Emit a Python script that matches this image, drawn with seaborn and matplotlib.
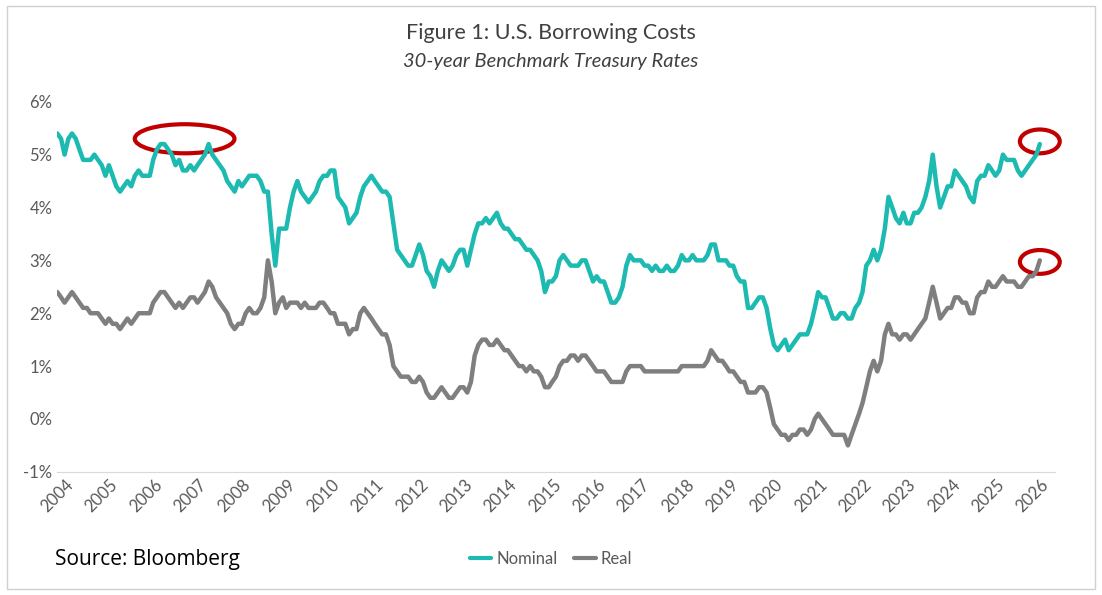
import matplotlib
matplotlib.use("Agg")
import matplotlib.pyplot as plt
import matplotlib.dates as mdates
import seaborn as sns
import pandas as pd
from matplotlib.patches import Ellipse, Rectangle
from matplotlib.lines import Line2D

nominal = [
5.4,5.3,5.0,5.3,5.4,5.3,5.1,4.9,4.9,4.9,5.0,4.9,
4.8,4.6,4.8,4.6,4.4,4.3,4.4,4.5,4.4,4.6,4.7,4.6,
4.6,4.6,4.9,5.1,5.2,5.2,5.1,5.0,4.8,4.9,4.7,4.7,
4.8,4.7,4.8,4.9,5.0,5.2,5.0,4.9,4.8,4.7,4.5,4.4,
4.3,4.5,4.4,4.5,4.6,4.6,4.6,4.5,4.3,4.3,3.5,2.9,
3.6,3.6,3.6,4.0,4.3,4.5,4.3,4.2,4.1,4.2,4.3,4.5,
4.6,4.6,4.7,4.7,4.2,4.1,4.0,3.7,3.8,3.9,4.2,4.4,
4.5,4.6,4.5,4.4,4.3,4.3,4.2,3.7,3.2,3.1,3.0,2.9,
2.9,3.1,3.3,3.1,2.8,2.7,2.5,2.8,3.0,2.9,2.8,2.9,
3.1,3.2,3.2,2.9,3.2,3.5,3.7,3.7,3.8,3.7,3.8,3.9,
3.7,3.6,3.6,3.5,3.4,3.4,3.3,3.2,3.2,3.1,3.0,2.8,
2.4,2.6,2.6,2.7,3.0,3.1,3.0,2.9,2.9,2.9,3.0,3.0,
2.8,2.6,2.7,2.6,2.6,2.4,2.2,2.2,2.3,2.5,2.9,3.1,
3.0,3.0,3.0,2.9,2.9,2.8,2.9,2.8,2.8,2.9,2.8,2.8,
2.9,3.1,3.0,3.0,3.1,3.0,3.0,3.0,3.1,3.3,3.3,3.0,
3.0,3.0,2.9,2.9,2.7,2.6,2.6,2.1,2.1,2.2,2.3,2.3,
2.1,1.7,1.4,1.3,1.4,1.5,1.3,1.4,1.5,1.6,1.6,1.6,
1.8,2.1,2.4,2.3,2.3,2.1,1.9,1.9,2.0,2.0,1.9,1.9,
2.1,2.2,2.4,2.9,3.0,3.2,3.0,3.2,3.6,4.2,4.0,3.8,
3.7,3.9,3.7,3.7,3.9,3.9,4.0,4.2,4.5,5.0,4.4,4.0,
4.2,4.4,4.4,4.7,4.6,4.5,4.4,4.2,4.1,4.5,4.6,4.6,
4.8,4.7,4.6,4.7,5.0,4.9,4.9,4.9,4.7,4.6,4.7,4.8,
4.9,5.0,5.2]
real = [
2.4,2.3,2.2,2.3,2.4,2.3,2.2,2.1,2.1,2.0,2.0,2.0,
1.9,1.8,1.9,1.8,1.8,1.7,1.8,1.9,1.8,1.9,2.0,2.0,
2.0,2.0,2.2,2.3,2.4,2.4,2.3,2.2,2.1,2.2,2.1,2.2,
2.3,2.3,2.2,2.3,2.4,2.6,2.5,2.3,2.2,2.1,2.0,1.8,
1.7,1.8,1.8,2.0,2.1,2.0,2.0,2.1,2.3,3.0,2.6,2.0,
2.2,2.3,2.1,2.2,2.2,2.2,2.1,2.2,2.1,2.1,2.1,2.2,
2.2,2.1,2.0,2.0,1.8,1.8,1.8,1.6,1.7,1.7,2.0,2.1,
2.0,1.9,1.8,1.7,1.6,1.6,1.4,1.0,0.9,0.8,0.8,0.8,
0.7,0.7,0.8,0.7,0.5,0.4,0.4,0.5,0.6,0.5,0.4,0.4,
0.5,0.6,0.6,0.5,0.7,1.2,1.4,1.5,1.5,1.4,1.4,1.5,
1.4,1.3,1.3,1.2,1.1,1.0,1.0,0.9,1.0,0.9,0.9,0.8,
0.6,0.6,0.7,0.8,1.0,1.1,1.1,1.2,1.2,1.1,1.2,1.2,
1.1,1.0,0.9,0.9,0.9,0.8,0.7,0.7,0.7,0.7,0.9,1.0,
1.0,1.0,1.0,0.9,0.9,0.9,0.9,0.9,0.9,0.9,0.9,0.9,
0.9,1.0,1.0,1.0,1.0,1.0,1.0,1.0,1.1,1.3,1.2,1.1,
1.1,1.0,0.9,0.9,0.8,0.7,0.7,0.5,0.5,0.5,0.6,0.6,
0.5,0.2,-0.1,-0.2,-0.3,-0.3,-0.4,-0.3,-0.3,-0.2,-0.2,-0.3,
-0.2,0.0,0.1,0.0,-0.1,-0.2,-0.3,-0.3,-0.3,-0.3,-0.5,-0.3,
-0.1,0.1,0.3,0.6,0.9,1.1,0.9,1.1,1.6,1.8,1.6,1.6,
1.5,1.6,1.6,1.5,1.6,1.7,1.8,1.9,2.2,2.5,2.2,1.9,
2.0,2.1,2.1,2.3,2.3,2.2,2.2,2.0,2.0,2.3,2.4,2.4,
2.6,2.5,2.5,2.6,2.7,2.6,2.6,2.6,2.5,2.5,2.6,2.7,
2.7,2.8,3.0]
years = list(range(2004, 2027))

dates = pd.date_range("2004-01-01", periods=len(nominal), freq="MS")
df = pd.DataFrame({"Date": list(dates)*2, "Rate": nominal+real,
                   "Series": ["Nominal"]*len(nominal)+["Real"]*len(real)})

sns.set_style("white")
plt.rcParams['font.family'] = ['Lato', 'DejaVu Sans']
fig = plt.figure(figsize=(11.02, 5.95), dpi=100)
fig.patches.append(Rectangle((0.006, 0.01), 0.988, 0.98, transform=fig.transFigure,
                             fill=False, edgecolor="#d0d0d0", lw=1))
ax = fig.add_axes([0.052, 0.207, 0.905, 0.622])
sns.lineplot(data=df, x="Date", y="Rate", hue="Series",
             palette={"Nominal": "#1cbab0", "Real": "#7f7f7f"}, lw=3.2, ax=ax, legend=False)
ax.set_xlim(pd.Timestamp("2004-01-01"), pd.Timestamp("2026-07-01"))
ax.set_ylim(-1, 6)
ax.set_yticks(range(-1, 7))
ax.set_yticklabels([f"{v}%" for v in range(-1, 7)], fontsize=12, color="#595959")
ax.set_xticks([pd.Timestamp(f"{y}-01-01") for y in years])
ax.set_xticklabels([str(y) for y in years], rotation=45, fontsize=12, color="#595959")
ax.set_xlabel(""); ax.set_ylabel("")
for s in ["top", "right", "left"]:
    ax.spines[s].set_visible(False)
ax.spines["bottom"].set_color("#d9d9d9")
ax.tick_params(length=0)

def ell(d, y, w, h):
    ax.add_patch(Ellipse((mdates.date2num(pd.Timestamp(d)), y), w, h, fill=False,
                         edgecolor="#c00000", lw=3, clip_on=False))
ell("2006-11-15", 5.3, 365*2.25, 0.55)
ell("2026-03-01", 5.25, 365*0.9, 0.45)
ell("2026-03-01", 2.97, 365*0.9, 0.45)

fig.text(0.5, 0.935, "Figure 1: U.S. Borrowing Costs", ha="center", fontsize=15.5, color="#404040")
fig.text(0.5, 0.888, "30-year Benchmark Treasury Rates", ha="center", fontsize=14.5,
         style="italic", color="#404040")
h = [Line2D([], [], color="#1cbab0", lw=3), Line2D([], [], color="#7f7f7f", lw=3)]
fig.legend(h, ["Nominal", "Real"], loc="center", bbox_to_anchor=(0.5, 0.06), ncol=2,
           frameon=False, fontsize=12, handlelength=1.3, handletextpad=0.3,
           columnspacing=1.0, labelcolor="#595959")
fig.text(0.05, 0.05, "Source: Bloomberg", fontsize=15, color="black",
         family=["Open Sans", "DejaVu Sans"])
fig.savefig("out.png", dpi=100)
